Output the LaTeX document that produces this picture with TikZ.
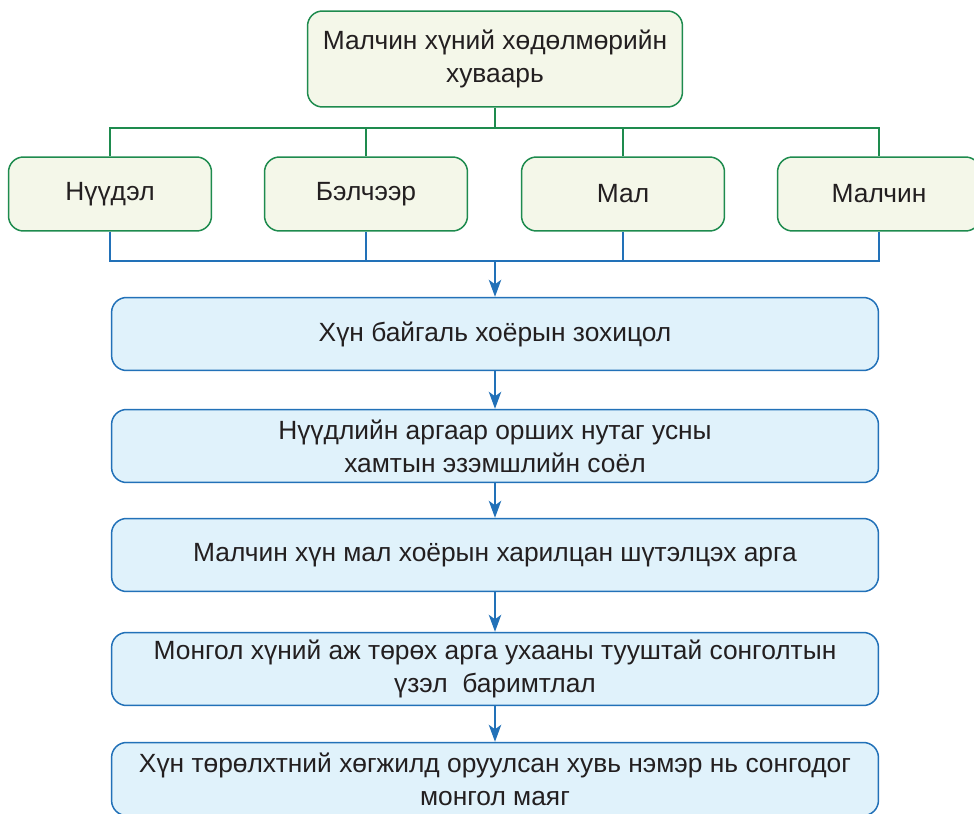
\documentclass[tikz,border=0pt]{standalone}
\usepackage{fontspec}
\setmainfont{Liberation Sans}
\usetikzlibrary{arrows.meta}
\definecolor{grline}{HTML}{1E8B4E}
\definecolor{grfill}{HTML}{F4F7E9}
\definecolor{blline}{HTML}{2271B8}
\definecolor{blfill}{HTML}{E0F2FB}
\definecolor{txtcol}{HTML}{231F20}

\begin{document}
\begin{tikzpicture}[x=0.02cm, y=-0.02cm,
  gbox/.style={draw=grline, fill=grfill, rounded corners=0.3cm, line width=0.85pt, inner sep=2pt, align=center, text=txtcol, font=\fontsize{15}{18.8}\selectfont},
  topbox/.style={gbox, minimum width=7.5cm, minimum height=1.92cm},
  rowbox/.style={gbox, minimum width=4.06cm, minimum height=1.48cm},
  bbox/.style={draw=blline, fill=blfill, rounded corners=0.3cm, line width=0.85pt, inner sep=2pt, align=center, text=txtcol, font=\fontsize{15}{18.8}\selectfont, minimum width=15.34cm, minimum height=1.46cm},
  gln/.style={draw=grline, line width=0.7pt},
  bln/.style={draw=blline, line width=0.7pt},
  arr/.style={bln, -{Stealth[length=3.4mm, width=2.5mm, inset=0.9mm]}}
]
  \useasboundingbox (0,0) rectangle (974,814);

  \node[topbox] (top) at (495,59) {Малчин хүний хөдөлмөрийн\\хуваарь};

  \node[rowbox] (nuudel) at (110,194) {Нүүдэл};
  \node[rowbox] (belcheer) at (366,194) {Бэлчээр};
  \node[rowbox] (mal) at (623,194) {Мал};
  \node[rowbox] (malchin) at (879,194) {Малчин};

  \node[bbox] (zohitsol) at (495,334) {Хүн байгаль хоёрын зохицол};
  \node[bbox] (soel) at (495,446) {Нүүдлийн аргаар орших нутаг усны\\хамтын эзэмшлийн соёл};
  \node[bbox] (arga) at (495,555) {Малчин хүн мал хоёрын харилцан шүтэлцэх арга};
  \node[bbox] (uzel) at (495,669) {Монгол хүний аж төрөх арга ухааны тууштай сонголтын\\үзэл~ баримтлал};
  \node[bbox] (mayag) at (495,779) {Хүн төрөлхтний хөгжилд оруулсан хувь нэмэр нь сонгодог\\монгол маяг};

  % green tree
  \coordinate (gbus) at (495,128);
  \coordinate (bbus) at (495,261);
  \draw[gln] (top.south) -- (gbus);
  \draw[gln] (nuudel.north) |- (malchin.north |- gbus) -- (malchin.north);
  \draw[gln] (belcheer.north) -- (belcheer.north |- gbus);
  \draw[gln] (mal.north) -- (mal.north |- gbus);

  % blue collector
  \draw[bln] (nuudel.south) |- (malchin.south |- bbus) -- (malchin.south);
  \draw[bln] (belcheer.south) -- (belcheer.south |- bbus);
  \draw[bln] (mal.south) -- (mal.south |- bbus);

  \draw[arr] (bbus) -- (zohitsol.north);
  \draw[arr] (zohitsol) -- (soel);
  \draw[arr] (soel) -- (arga);
  \draw[arr] (arga) -- (uzel);
  \draw[arr] (uzel) -- (mayag);
\end{tikzpicture}
\end{document}
